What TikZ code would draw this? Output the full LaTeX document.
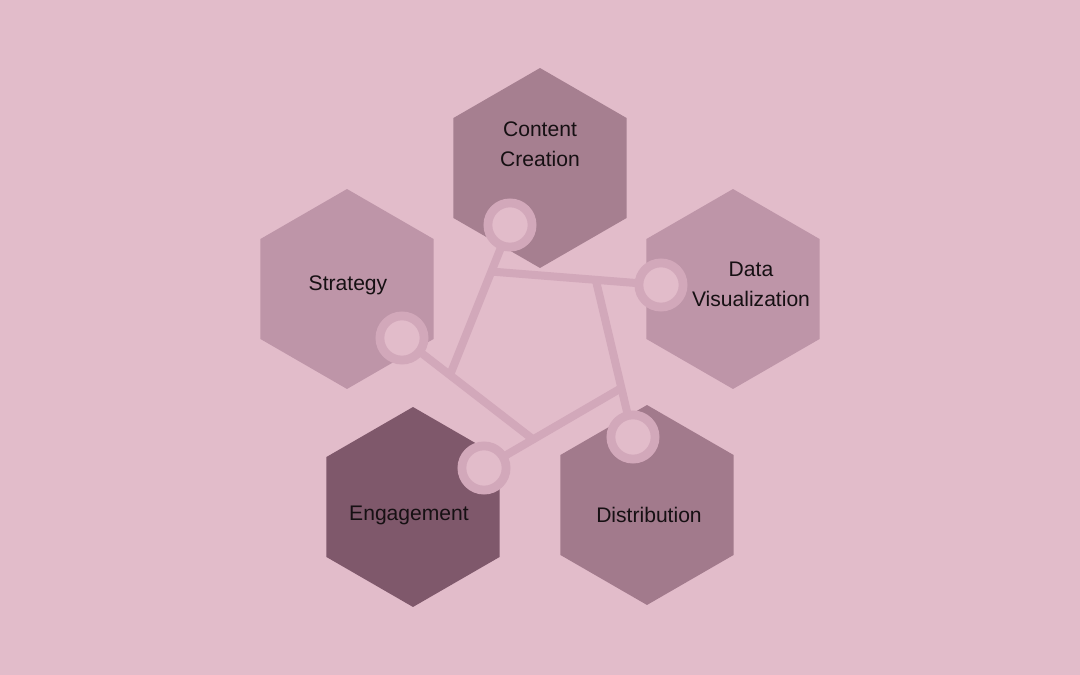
\documentclass[tikz,border=0pt]{standalone}
\usepackage{fontspec}
\setmainfont{Liberation Sans}
\usetikzlibrary{shapes.geometric}

\definecolor{bgpink}{HTML}{E2BCCA}
\definecolor{linkpink}{HTML}{D2A8BA}
\definecolor{hexlight}{HTML}{BE95A8}
\definecolor{hexmid}{HTML}{A67F90}
\definecolor{hexmidb}{HTML}{A27A8C}
\definecolor{hexdark}{HTML}{7F586B}
\definecolor{labelink}{HTML}{161013}

\begin{document}
\begin{tikzpicture}[
    x=0.02cm, y=-0.02cm,
    hexa/.style={regular polygon, regular polygon sides=6, shape border rotate=30,
        minimum size=4cm, inner sep=0pt, outer sep=0pt},
    ring/.style={circle, draw=linkpink, line width=0.176cm, fill=bgpink,
        minimum size=0.884cm, inner sep=0pt},
    link/.style={draw=linkpink, line width=0.16cm, line cap=rect},
    lbl/.style={align=center, text=labelink, font=\fontsize{12}{17}\selectfont}
]

% --- Hintergrund ---
\fill[bgpink] (0,0) rectangle (1080,675);
\useasboundingbox (0,0) rectangle (1080,675);

% --- Sechsecke ---
\node[hexa, fill=hexmid]   (content)  at (540,168) {};
\node[hexa, fill=hexlight] (dataviz)  at (733,289) {};
\node[hexa, fill=hexlight] (strategy) at (347,289) {};
\node[hexa, fill=hexdark]  (engage)   at (413,507) {};
\node[hexa, fill=hexmidb]  (distrib)  at (647,505) {};

% --- Beschriftungen ---
\node[lbl] (contentT)  at (540,144) {Content\\Creation};
\node[lbl] (datavizT)  at (751,284) {Data\\Visualization};
\node[lbl] (strategyT) at (348,285) {Strategy};
\node[lbl] (engageT)   at (409,515) {Engagement};
\node[lbl] (distribT)  at (649,515) {Distribution};

% --- Fuenfeck ---
\coordinate (pA) at (497,272);
\coordinate (pB) at (597,285);
\coordinate (pC) at (618,390);
\coordinate (pD) at (530,437);
\coordinate (pE) at (452,370);

% --- Ringe ---
\coordinate (contentR)  at (510,225);
\coordinate (datavizR)  at (661,285);
\coordinate (strategyR) at (402,338);
\coordinate (engageR)   at (484,468);
\coordinate (distribR)  at (633,437);

% --- Verbindungen ---
\draw[link] (pE) -- (contentR);
\draw[link] (pA) -- (datavizR);
\draw[link] (pB) -- (distribR);
\draw[link] (pC) -- (engageR);
\draw[link] (pD) -- (strategyR);

\foreach \r in {contentR, datavizR, strategyR, engageR, distribR}
    \node[ring] (\r dot) at (\r) {};

\end{tikzpicture}
\end{document}
